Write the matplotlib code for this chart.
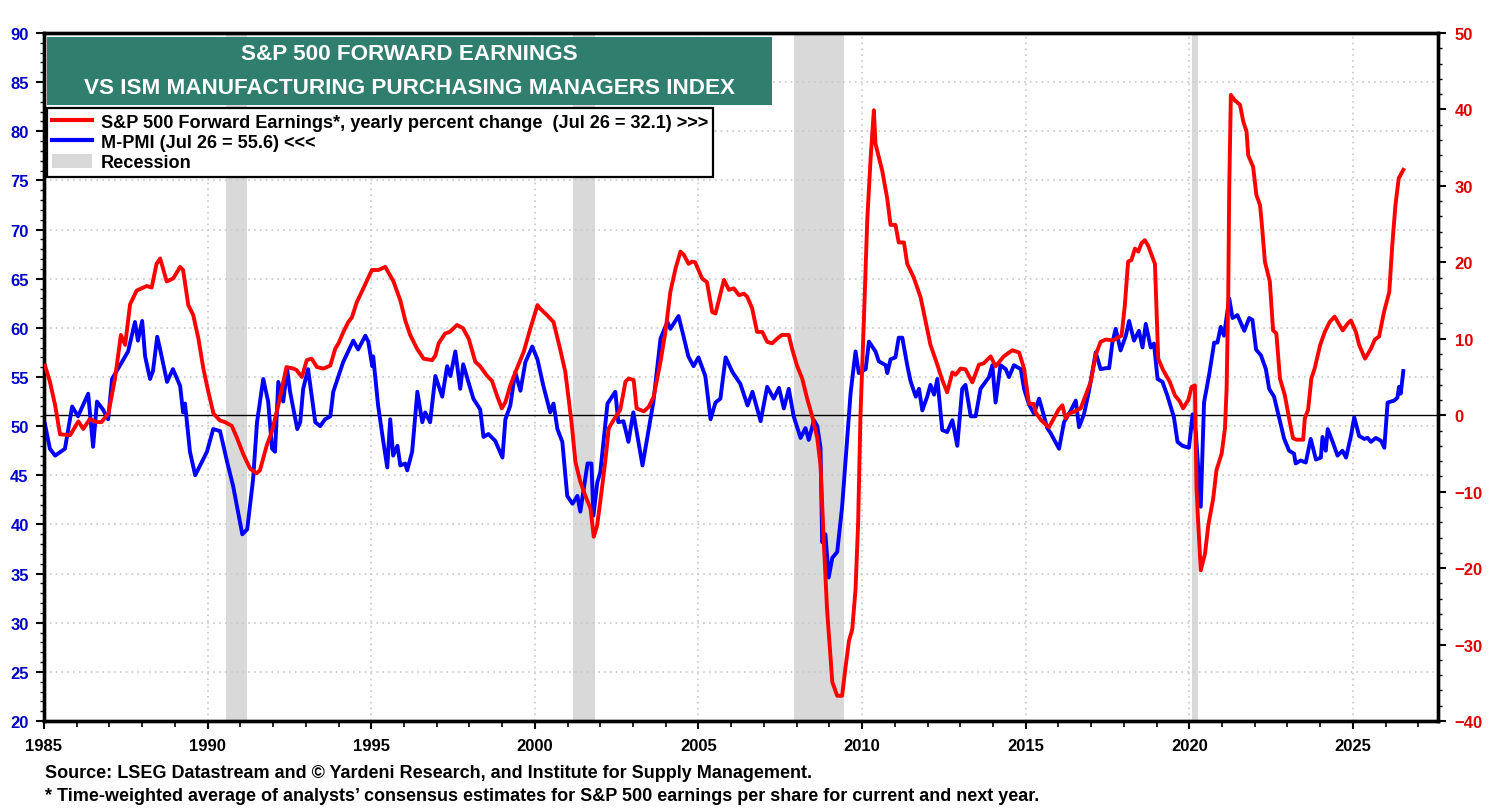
import matplotlib
matplotlib.use("Agg")
import matplotlib.pyplot as plt
from matplotlib.lines import Line2D
from matplotlib.patches import Patch, Rectangle
import matplotlib.ticker as mticker

plt.rcParams["font.family"] = ["Liberation Sans Narrow", "Liberation Sans", "DejaVu Sans"]
plt.rcParams["font.weight"] = "bold"

# M-PMI (left axis)
pmi_years = [
    1985.03, 1985.18, 1985.34, 1985.64, 1985.86, 1986.04, 1986.35, 1986.50, 1986.62, 1986.80,
    1986.96, 1987.08, 1987.48, 1987.57, 1987.78, 1987.87, 1988.00, 1988.09, 1988.24, 1988.33,
    1988.46, 1988.55, 1988.76, 1988.94, 1989.16, 1989.25, 1989.31, 1989.46, 1989.62, 1989.77,
    1989.98, 1990.17, 1990.38, 1990.60, 1990.78, 1990.93, 1991.06, 1991.21, 1991.39, 1991.51,
    1991.70, 1991.85, 1991.97, 1992.06, 1992.16, 1992.31, 1992.43, 1992.52, 1992.74, 1992.83,
    1992.92, 1993.07, 1993.29, 1993.44, 1993.59, 1993.75, 1993.84, 1994.14, 1994.45, 1994.60,
    1994.82, 1994.91, 1995.03, 1995.06, 1995.21, 1995.37, 1995.49, 1995.58, 1995.67, 1995.80,
    1995.89, 1996.04, 1996.10, 1996.25, 1996.41, 1996.56, 1996.65, 1996.80, 1996.96, 1997.17,
    1997.32, 1997.42, 1997.57, 1997.72, 1997.81, 1998.12, 1998.33, 1998.43, 1998.58, 1998.79,
    1999.01, 1999.10, 1999.25, 1999.40, 1999.56, 1999.71, 1999.92, 2000.08, 2000.26, 2000.47,
    2000.57, 2000.69, 2000.84, 2000.99, 2001.15, 2001.30, 2001.39, 2001.61, 2001.73, 2001.79,
    2001.91, 2002.00, 2002.22, 2002.46, 2002.55, 2002.71, 2002.86, 2003.01, 2003.29, 2003.44,
    2003.62, 2003.84, 2004.05, 2004.14, 2004.39, 2004.54, 2004.69, 2004.85, 2005.00, 2005.21,
    2005.37, 2005.52, 2005.67, 2005.83, 2006.04, 2006.28, 2006.50, 2006.65, 2006.90, 2007.10,
    2007.30, 2007.46, 2007.61, 2007.76, 2007.91, 2008.12, 2008.27, 2008.37, 2008.53, 2008.63,
    2008.73, 2008.78, 2008.88, 2008.98, 2009.09, 2009.24, 2009.39, 2009.55, 2009.65, 2009.80,
    2009.90, 2010.11, 2010.21, 2010.41, 2010.51, 2010.72, 2010.77, 2010.87, 2011.02, 2011.12,
    2011.23, 2011.38, 2011.48, 2011.64, 2011.74, 2011.84, 2011.99, 2012.09, 2012.20, 2012.30,
    2012.45, 2012.60, 2012.76, 2012.91, 2013.06, 2013.16, 2013.32, 2013.47, 2013.62, 2013.88,
    2013.98, 2014.08, 2014.23, 2014.39, 2014.49, 2014.64, 2014.85, 2014.95, 2015.10, 2015.25,
    2015.41, 2015.56, 2015.66, 2015.76, 2016.02, 2016.17, 2016.38, 2016.53, 2016.63, 2016.78,
    2016.93, 2017.14, 2017.29, 2017.45, 2017.55, 2017.65, 2017.75, 2017.90, 2018.06, 2018.16,
    2018.31, 2018.46, 2018.57, 2018.67, 2018.82, 2018.92, 2019.03, 2019.18, 2019.33, 2019.53,
    2019.64, 2019.79, 2019.99, 2020.10, 2020.20, 2020.35, 2020.45, 2020.61, 2020.76, 2020.86,
    2020.96, 2021.06, 2021.22, 2021.32, 2021.47, 2021.68, 2021.83, 2021.93, 2022.04, 2022.19,
    2022.34, 2022.44, 2022.59, 2022.75, 2022.90, 2023.05, 2023.20, 2023.25, 2023.40, 2023.56,
    2023.71, 2023.87, 2024.02, 2024.07, 2024.17, 2024.23, 2024.38, 2024.53, 2024.68, 2024.79,
    2024.94, 2025.04, 2025.19, 2025.35, 2025.45, 2025.55, 2025.70, 2025.86, 2025.96, 2026.06,
    2026.26, 2026.36, 2026.41, 2026.46, 2026.54,
]
pmi_values = [
    50.2, 47.7, 47.0, 47.7, 52.0, 51.0, 53.3, 47.9, 52.5, 51.7,
    50.7, 54.8, 57.1, 57.6, 60.6, 58.7, 60.7, 57.1, 54.8, 55.6,
    59.1, 57.8, 54.5, 55.8, 54.1, 51.4, 52.3, 47.4, 45.0, 46.0,
    47.4, 49.7, 49.5, 46.3, 43.9, 41.3, 39.0, 39.5, 44.6, 50.4,
    54.8, 52.5, 47.7, 47.4, 54.5, 52.5, 55.8, 53.5, 49.7, 50.4,
    53.8, 55.8, 50.4, 50.0, 50.7, 51.0, 53.5, 56.5, 58.7, 57.8,
    59.2, 58.6, 56.1, 57.1, 52.1, 48.4, 45.8, 50.7, 47.0, 48.0,
    46.0, 46.2, 45.5, 47.4, 53.5, 50.4, 51.4, 50.4, 55.1, 53.0,
    56.1, 55.1, 57.6, 53.8, 56.3, 52.8, 51.7, 48.9, 49.2, 48.5,
    46.8, 50.7, 52.1, 55.5, 53.6, 56.5, 58.1, 56.8, 54.1, 51.4,
    52.3, 49.7, 48.4, 42.9, 42.1, 42.9, 41.3, 46.2, 46.2, 40.9,
    44.3, 45.3, 52.3, 53.5, 50.4, 50.5, 48.4, 51.4, 46.0, 48.9,
    52.4, 58.9, 60.6, 59.9, 61.2, 59.2, 57.1, 56.1, 57.0, 55.1,
    50.7, 52.4, 52.8, 57.0, 55.5, 54.3, 52.1, 53.5, 50.5, 54.0,
    52.8, 53.9, 51.8, 53.8, 51.0, 48.8, 49.8, 48.6, 50.6, 50.0,
    47.8, 38.2, 39.0, 34.6, 36.6, 37.2, 41.8, 49.0, 53.4, 57.6,
    55.4, 55.8, 58.6, 57.6, 56.6, 56.2, 55.4, 56.8, 57.0, 59.0,
    59.0, 56.2, 54.6, 53.0, 53.8, 51.6, 53.0, 54.2, 53.2, 54.8,
    49.6, 49.4, 50.6, 48.0, 53.8, 54.2, 51.0, 51.0, 53.8, 55.0,
    56.2, 52.4, 56.2, 55.8, 55.0, 56.2, 55.8, 53.8, 52.2, 51.3,
    52.8, 51.0, 49.8, 49.3, 47.7, 50.4, 51.6, 52.6, 49.9, 51.2,
    53.5, 57.5, 55.8, 55.9, 55.9, 58.5, 59.9, 57.7, 59.2, 60.7,
    58.7, 59.7, 58.0, 60.4, 58.0, 58.4, 54.8, 54.5, 53.1, 50.9,
    48.4, 48.0, 47.8, 51.2, 49.3, 41.8, 52.4, 55.3, 58.5, 58.5,
    60.1, 59.2, 63.0, 61.0, 61.3, 59.7, 61.0, 60.8, 57.8, 57.2,
    55.8, 53.8, 53.0, 50.8, 48.7, 47.5, 47.2, 46.2, 46.5, 46.3,
    48.7, 46.6, 46.8, 48.9, 47.5, 49.7, 48.4, 47.0, 47.5, 46.8,
    49.0, 50.9, 49.0, 48.7, 48.8, 48.4, 48.8, 48.5, 47.8, 52.4,
    52.6, 52.9, 54.0, 53.3, 55.6,
]

# S&P 500 forward earnings, yearly percent change (right axis)
earn_years = [
    1985.03, 1985.18, 1985.34, 1985.49, 1985.80, 1986.05, 1986.20, 1986.40, 1986.60, 1986.76,
    1986.97, 1987.17, 1987.35, 1987.48, 1987.63, 1987.83, 1988.14, 1988.29, 1988.44, 1988.55,
    1988.75, 1988.95, 1989.16, 1989.25, 1989.41, 1989.56, 1989.72, 1989.87, 1990.02, 1990.18,
    1990.38, 1990.53, 1990.74, 1990.89, 1991.10, 1991.30, 1991.50, 1991.60, 1991.81, 1991.96,
    1992.16, 1992.41, 1992.62, 1992.72, 1992.88, 1993.03, 1993.18, 1993.34, 1993.54, 1993.75,
    1993.90, 1994.00, 1994.15, 1994.30, 1994.41, 1994.56, 1994.76, 1995.02, 1995.22, 1995.43,
    1995.68, 1995.89, 1996.04, 1996.19, 1996.40, 1996.60, 1996.86, 1996.96, 1997.06, 1997.26,
    1997.40, 1997.62, 1997.80, 1997.98, 1998.18, 1998.33, 1998.53, 1998.69, 1998.84, 1998.99,
    1999.10, 1999.25, 1999.45, 1999.66, 1999.86, 2000.08, 2000.15, 2000.37, 2000.57, 2000.77,
    2000.93, 2001.03, 2001.13, 2001.24, 2001.39, 2001.54, 2001.70, 2001.80, 2001.90, 2002.00,
    2002.15, 2002.26, 2002.41, 2002.61, 2002.77, 2002.87, 2003.02, 2003.11, 2003.33, 2003.48,
    2003.63, 2003.84, 2003.99, 2004.14, 2004.30, 2004.45, 2004.55, 2004.70, 2004.80, 2004.90,
    2005.11, 2005.26, 2005.42, 2005.52, 2005.78, 2005.93, 2006.08, 2006.24, 2006.39, 2006.49,
    2006.64, 2006.79, 2006.95, 2007.10, 2007.25, 2007.40, 2007.55, 2007.76, 2007.86, 2008.01,
    2008.17, 2008.32, 2008.48, 2008.63, 2008.73, 2008.83, 2008.93, 2009.09, 2009.24, 2009.39,
    2009.49, 2009.60, 2009.70, 2009.80, 2009.88, 2009.95, 2010.05, 2010.16, 2010.26, 2010.36,
    2010.41, 2010.62, 2010.77, 2010.87, 2011.02, 2011.12, 2011.28, 2011.38, 2011.58, 2011.79,
    2011.99, 2012.09, 2012.30, 2012.45, 2012.60, 2012.76, 2012.86, 2013.01, 2013.16, 2013.37,
    2013.57, 2013.72, 2013.93, 2014.08, 2014.33, 2014.59, 2014.80, 2014.95, 2015.10, 2015.25,
    2015.30, 2015.46, 2015.71, 2016.00, 2016.12, 2016.22, 2016.32, 2016.50, 2016.68, 2016.83,
    2016.99, 2017.14, 2017.29, 2017.45, 2017.68, 2017.83, 2017.93, 2018.03, 2018.13, 2018.23,
    2018.34, 2018.44, 2018.54, 2018.64, 2018.74, 2018.95, 2019.05, 2019.20, 2019.40, 2019.56,
    2019.71, 2019.81, 2019.97, 2020.07, 2020.17, 2020.22, 2020.27, 2020.35, 2020.48, 2020.58,
    2020.73, 2020.83, 2020.99, 2021.09, 2021.14, 2021.19, 2021.22, 2021.27, 2021.39, 2021.55,
    2021.65, 2021.75, 2021.80, 2021.95, 2022.05, 2022.16, 2022.21, 2022.31, 2022.46, 2022.56,
    2022.66, 2022.77, 2022.92, 2023.07, 2023.17, 2023.27, 2023.48, 2023.53, 2023.63, 2023.73,
    2023.83, 2024.00, 2024.14, 2024.29, 2024.44, 2024.59, 2024.69, 2024.84, 2024.94, 2025.09,
    2025.19, 2025.37, 2025.55, 2025.67, 2025.80, 2025.95, 2026.11, 2026.21, 2026.30, 2026.40,
    2026.54,
]
earn_values = [
    6.5, 4.4, 1.3, -2.5, -2.6, -0.8, -1.8, -0.5, -0.9, -0.9,
    0.3, 4.8, 10.5, 9.2, 14.5, 16.3, 16.9, 16.7, 19.8, 20.5,
    17.5, 17.9, 19.4, 19.0, 14.4, 13.1, 10.0, 6.1, 3.1, 0.2,
    -0.7, -0.9, -1.4, -2.9, -5.2, -7.0, -7.6, -7.2, -3.9, -2.2,
    1.3, 6.3, 6.1, 5.9, 5.0, 7.2, 7.4, 6.3, 6.1, 6.5,
    8.7, 9.4, 10.9, 12.2, 12.8, 14.8, 16.6, 19.0, 19.0, 19.4,
    17.5, 15.0, 12.4, 10.5, 8.7, 7.4, 7.2, 7.8, 9.4, 10.7,
    10.9, 11.8, 11.4, 10.0, 7.0, 6.4, 5.2, 4.5, 2.6, 0.9,
    1.7, 3.9, 6.1, 8.3, 11.3, 14.4, 14.0, 13.1, 12.2, 8.7,
    5.7, 2.2, -1.3, -6.1, -8.7, -10.5, -12.2, -15.9, -14.5, -11.3,
    -6.1, -1.7, -0.6, 0.7, 4.4, 4.8, 4.6, 0.9, 0.5, 1.1,
    2.4, 7.0, 10.9, 16.1, 19.2, 21.4, 21.0, 19.8, 20.1, 20.0,
    17.9, 17.4, 13.5, 13.3, 17.7, 16.4, 16.6, 15.7, 15.9, 15.5,
    14.0, 10.9, 10.9, 9.6, 9.4, 10.0, 10.5, 10.5, 8.7, 6.5,
    4.8, 2.2, -0.2, -3.0, -6.5, -16.6, -25.4, -34.9, -36.7, -36.7,
    -33.1, -29.5, -28.0, -22.8, -14.0, -0.1, 11.8, 25.7, 33.5, 39.9,
    35.5, 31.9, 28.3, 24.9, 24.9, 22.6, 22.6, 19.8, 18.0, 15.4,
    11.3, 9.2, 6.6, 4.6, 3.0, 5.6, 5.3, 6.1, 6.0, 4.3,
    6.6, 6.8, 7.7, 6.4, 7.7, 8.5, 8.2, 6.1, 1.5, 1.5,
    0.4, -0.6, -1.6, 0.7, 1.3, -0.4, 0.2, 0.5, 0.9, 2.6,
    4.4, 7.9, 9.6, 9.9, 9.8, 10.2, 10.4, 14.4, 20.1, 20.3,
    21.8, 21.4, 22.5, 22.9, 22.2, 19.8, 7.4, 5.9, 4.4, 2.6,
    1.8, 0.9, 2.0, 3.7, 3.9, -9.6, -13.9, -20.3, -18.1, -14.4,
    -10.9, -7.2, -5.0, -1.7, 3.5, 15.7, 29.7, 41.9, 41.2, 40.6,
    38.4, 37.1, 34.0, 32.5, 28.8, 27.5, 25.3, 20.1, 17.5, 11.1,
    10.7, 4.8, 2.6, -0.9, -3.0, -3.2, -3.2, -0.4, 0.7, 4.8,
    6.1, 9.2, 10.9, 12.2, 12.9, 11.8, 11.1, 12.0, 12.4, 10.9,
    9.2, 7.4, 8.7, 9.9, 10.3, 13.5, 16.1, 22.7, 27.5, 31.0,
    32.1,
]

recession_starts = [1990.55, 2001.17, 2007.92, 2020.08]
recession_ends = [1991.20, 2001.85, 2009.45, 2020.28]

x_ticks = list(range(1985, 2030, 5))
left_ticks = list(range(20, 95, 5))
right_ticks = list(range(-40, 60, 10))

title_lines = ["S&P 500 FORWARD EARNINGS", "VS ISM MANUFACTURING PURCHASING MANAGERS INDEX"]
legend_labels = [
    "S&P 500 Forward Earnings*, yearly percent change  (Jul 26 = 32.1) >>>",
    "M-PMI (Jul 26 = 55.6) <<<",
    "Recession",
]
footnotes = [
    "Source: LSEG Datastream and \u00a9 Yardeni Research, and Institute for Supply Management.",
    "* Time-weighted average of analysts\u2019 consensus estimates for S&P 500 earnings per share for current and next year.",
]

RED = "#ff0000"
BLUE = "#0000ff"
W, H = 1489, 812

fig = plt.figure(figsize=(W / 100, H / 100), dpi=100)
ax = fig.add_axes([44 / W, 1 - 722 / H, (1438 - 44) / W, (722 - 34) / H])
ax2 = ax.twinx()

left_lim = (20, 90)
right_lim = (-40, 50)

# recession shading
for s, e in zip(recession_starts, recession_ends):
    ax.axvspan(s, e, color="#d9d9d9", lw=0, zorder=0.5)

# zero line of the right axis, drawn on the left axis
zero_on_left = left_lim[0] + (0 - right_lim[0]) / (right_lim[1] - right_lim[0]) * (left_lim[1] - left_lim[0])
ax.axhline(zero_on_left, color="black", lw=1.0, zorder=1.5)

ax.plot(pmi_years, pmi_values, color=BLUE, lw=2.8, zorder=3, solid_joinstyle="round")
ax2.plot(earn_years, earn_values, color=RED, lw=2.8, zorder=3, solid_joinstyle="round")

ax.set_xlim(1985, 2027.6)
ax.set_ylim(*left_lim)
ax2.set_ylim(*right_lim)

ax.set_xticks(x_ticks)
ax.xaxis.set_minor_locator(mticker.MultipleLocator(1))
ax.set_yticks(left_ticks)
ax.yaxis.set_minor_locator(mticker.MultipleLocator(1))
ax2.set_yticks(right_ticks)
ax2.yaxis.set_minor_locator(mticker.MultipleLocator(2))

ax.grid(True, which="major", color="#c8c8c8", ls=(0, (1, 2.5)), lw=1.2, zorder=0.6)
ax.set_axisbelow(True)

ax.tick_params(axis="x", which="major", direction="out", length=6, width=1.5, pad=6,
               labelsize=12, labelcolor="black")
ax.tick_params(axis="x", which="minor", direction="out", length=4, width=1.2)
ax.tick_params(axis="y", which="major", direction="out", length=6, width=1.5, pad=5,
               labelsize=12, labelcolor="#0000cc")
ax.tick_params(axis="y", which="minor", direction="out", length=3, width=1.0)
ax2.tick_params(axis="y", which="major", direction="out", length=6, width=1.5, pad=6,
                labelsize=12, labelcolor="#e00000")
ax2.tick_params(axis="y", which="minor", direction="out", length=3, width=1.0)

for lab in ax.get_xticklabels() + ax.get_yticklabels() + ax2.get_yticklabels():
    lab.set_fontweight("bold")

for a in (ax, ax2):
    for sp in a.spines.values():
        sp.set_linewidth(2.4)
        sp.set_color("black")

# title box
fig.patches.append(Rectangle((47 / W, 1 - 106 / H), (772 - 47) / W, (106 - 38) / H,
                             transform=fig.transFigure, facecolor="#2f7e6e",
                             edgecolor="none", zorder=5))
fig.text(409 / W, 1 - 55 / H, title_lines[0], color="white", fontsize=16.2,
         fontweight="bold", ha="center", va="center", zorder=6)
fig.text(409 / W, 1 - 88 / H, title_lines[1], color="white", fontsize=16.2,
         fontweight="bold", ha="center", va="center", zorder=6)

# legend
handles = [
    Line2D([], [], color=RED, lw=3.0),
    Line2D([], [], color=BLUE, lw=3.0),
    Patch(facecolor="#d9d9d9", edgecolor="none"),
]
leg = ax2.legend(handles, legend_labels, loc="upper left",
                 bbox_to_anchor=(47 / W, 1 - 109 / H), bbox_transform=fig.transFigure,
                 borderaxespad=0, frameon=True, fancybox=False, framealpha=1,
                 edgecolor="black", prop={"weight": "bold", "size": 13.1},
                 handlelength=2.2, handleheight=0.8, handletextpad=0.45,
                 labelspacing=0.17, borderpad=0.3)
leg.get_frame().set_linewidth(1.6)
leg.set_zorder(6)

fig.text(45 / W, 1 - 774 / H, footnotes[0], fontsize=13.0, fontweight="bold",
         ha="left", va="center")
fig.text(45 / W, 1 - 797 / H, footnotes[1], fontsize=13.0, fontweight="bold",
         ha="left", va="center")

fig.savefig("out.png", dpi=100)
